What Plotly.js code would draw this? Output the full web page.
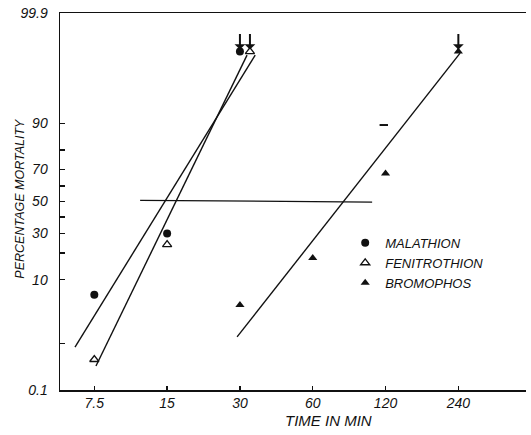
<!DOCTYPE html>
<html>
<head>
<meta charset="utf-8">
<script src="https://cdn.plot.ly/plotly-3.0.1.min.js"></script>
<style>html,body{margin:0;padding:0;background:#fff;}#chart{width:531px;height:435px;}</style>
</head>
<body>
<div id="chart"></div>
<script>
// ---- data (time in min, percentage mortality) ----
const timeTicks = [7.5, 15, 30, 60, 120, 240];
const timeTickLabels = ['7.5', '15', '30', '60', '120', '240'];
const pctTicks = [0.1, 10, 30, 50, 70, 90, 99.9];
const pctTickLabels = ['0.1', '10', '30', '50', '70', '90', '99.9'];
const pctMinorTicks = [1, 20, 40, 60, 80];

const malathionTime = [7.5, 15, 30];
const malathionPct = [6.3, 30, 99.3];
const fenitrothionTime = [7.5, 15, 33];
const fenitrothionPct = [0.48, 24, 99.3];
const bromophosTime = [30, 60, 120, 240];
const bromophosPct = [4.5, 17.7, 67.7, 99.3];

const malathionFitTime = [6.24, 34.7];
const malathionFitPct = [0.85, 99.18];
const fenitrothionFitTime = [7.62, 32.1];
const fenitrothionFitPct = [0.35, 99.18];
const bromophosFitTime = [29.2, 244];
const bromophosFitPct = [1.32, 99.25];
const lt50Time = [11.6, 105.6];
const lt50Pct = [50.8, 49.6];
const strayTime = [118];
const strayPct = [89.5];

// arrows marking 100% kill
const fullKillTime = [30, 33, 240];
const fullKillPct = [99.3, 99.3, 99.3];

// ---- probit transform (inverse normal CDF, Acklam) ----
function probit(pct) {
  const p = pct / 100;
  const a = [-3.969683028665376e+01, 2.209460984245205e+02, -2.759285104469687e+02, 1.383577518672690e+02, -3.066479806614716e+01, 2.506628277459239e+00];
  const b = [-5.447609879822406e+01, 1.615858368580409e+02, -1.556989798598866e+02, 6.680131188771972e+01, -1.328068155288572e+01];
  const c = [-7.784894002430293e-03, -3.223964580411365e-01, -2.400758277161838e+00, -2.549732539343734e+00, 4.374664141464968e+00, 2.938163982698783e+00];
  const d = [7.784695709041462e-03, 3.224671290700398e-01, 2.445134137142996e+00, 3.754408661907416e+00];
  const pl = 0.02425, ph = 1 - pl;
  let q, r;
  if (p < pl) {
    q = Math.sqrt(-2 * Math.log(p));
    return (((((c[0]*q+c[1])*q+c[2])*q+c[3])*q+c[4])*q+c[5]) / ((((d[0]*q+d[1])*q+d[2])*q+d[3])*q+1);
  } else if (p <= ph) {
    q = p - 0.5; r = q*q;
    return (((((a[0]*r+a[1])*r+a[2])*r+a[3])*r+a[4])*r+a[5])*q / (((((b[0]*r+b[1])*r+b[2])*r+b[3])*r+b[4])*r+1);
  } else {
    q = Math.sqrt(-2 * Math.log(1 - p));
    return -(((((c[0]*q+c[1])*q+c[2])*q+c[3])*q+c[4])*q+c[5]) / ((((d[0]*q+d[1])*q+d[2])*q+d[3])*q+1);
  }
}
const P = arr => arr.map(probit);

const fontFam = '"Liberation Sans", Arial, sans-serif';
const lineStyle = {color: '#111', width: 1.4};

const traces = [
  {x: malathionFitTime, y: P(malathionFitPct), mode: 'lines', line: lineStyle, showlegend: false, hoverinfo: 'skip'},
  {x: fenitrothionFitTime, y: P(fenitrothionFitPct), mode: 'lines', line: lineStyle, showlegend: false, hoverinfo: 'skip'},
  {x: bromophosFitTime, y: P(bromophosFitPct), mode: 'lines', line: lineStyle, showlegend: false, hoverinfo: 'skip'},
  {x: lt50Time, y: P(lt50Pct), mode: 'lines', line: {color: '#111', width: 1.3}, showlegend: false, hoverinfo: 'skip'},
  {x: strayTime, y: P(strayPct), mode: 'markers', marker: {symbol: 'line-ew', size: 6, line: {color: '#111', width: 2}}, showlegend: false},
  {name: 'MALATHION', x: malathionTime, y: P(malathionPct), mode: 'markers',
   marker: {symbol: 'circle', size: 8, color: '#111'}},
  {name: 'FENITROTHION', x: fenitrothionTime, y: P(fenitrothionPct), mode: 'markers',
   marker: {symbol: 'triangle-up-open', size: 8, color: '#111', line: {width: 1.3}}},
  {name: 'BROMOPHOS', x: bromophosTime, y: P(bromophosPct), mode: 'markers',
   marker: {symbol: 'triangle-up', size: 8, color: '#111'}}
];

const annotations = fullKillTime.map((t, i) => ({
  x: Math.log10(t), y: probit(fullKillPct[i]), xref: 'x', yref: 'y',
  text: '', showarrow: true, ax: 0, ay: -19, standoff: 2,
  arrowhead: 1, arrowsize: 0.9, arrowwidth: 2, arrowcolor: '#111'
}));
annotations.push({
  text: 'PERCENTAGE MORTALITY', xref: 'paper', yref: 'paper', x: -0.086, y: 0.51,
  xanchor: 'center', yanchor: 'middle', textangle: -90, showarrow: false,
  font: {family: fontFam, size: 12.5, style: 'italic', color: '#111'}
});
annotations.push({
  text: 'TIME IN MIN', xref: 'paper', yref: 'paper', x: 0.577, y: -0.0796,
  xanchor: 'center', yanchor: 'middle', showarrow: false,
  font: {family: fontFam, size: 15, style: 'italic', color: '#111'}
});

// major + minor ticks on the probit axis
const yTickVals = P(pctTicks).concat(P(pctMinorTicks));
const yTickText = pctTickLabels.concat(pctMinorTicks.map(() => ''));

const layout = {
  width: 531, height: 435,
  margin: {l: 60, r: 5, t: 13, b: 45},
  paper_bgcolor: '#fff', plot_bgcolor: '#fff',
  showlegend: true,
  legend: {x: 0.612, y: 0.43, xanchor: 'left', yanchor: 'top', bgcolor: 'rgba(0,0,0,0)',
           itemwidth: 30, tracegroupgap: 0,
           font: {family: fontFam, size: 13, style: 'italic', color: '#111'}},
  xaxis: {
    type: 'log', range: [Math.log10(5.41), Math.log10(457)],
    tickmode: 'array', tickvals: timeTicks, ticktext: timeTickLabels,
    ticks: 'inside', ticklen: 4, tickwidth: 1.5, tickcolor: '#111',
    showline: true, linecolor: '#111', linewidth: 1.5, mirror: true,
    showgrid: false, zeroline: false, ticklabelstandoff: 0,
    tickfont: {family: fontFam, size: 14, style: 'italic', color: '#111'}
  },
  yaxis: {
    range: [probit(0.1), probit(99.9)],
    tickmode: 'array', tickvals: yTickVals, ticktext: yTickText,
    ticks: 'inside', ticklen: 5, tickwidth: 1.5, tickcolor: '#111',
    showline: true, linecolor: '#111', linewidth: 1.5,
    showgrid: false, zeroline: false, ticklabelstandoff: 8,
    tickfont: {family: fontFam, size: 14, style: 'italic', color: '#111'}
  },
  annotations: annotations
};

Plotly.newPlot('chart', traces, layout, {displayModeBar: false, staticPlot: true});
</script>
</body>
</html>
